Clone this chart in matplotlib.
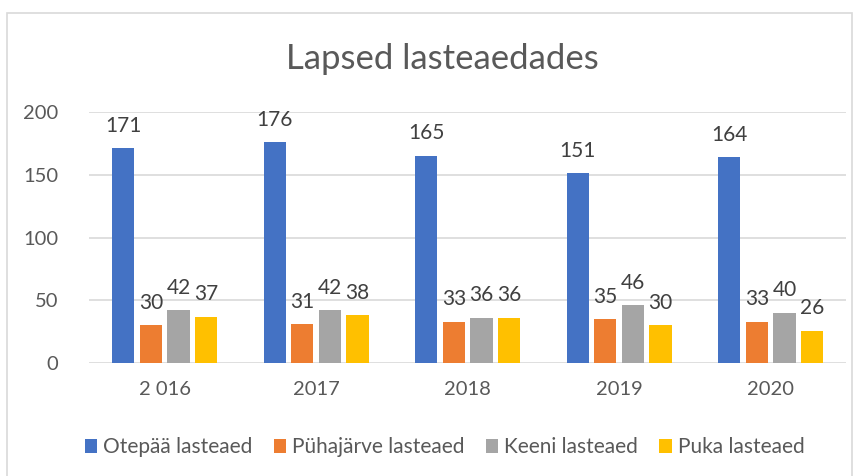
import matplotlib
import matplotlib.pyplot as plt
import numpy as np
from matplotlib.patches import Rectangle

matplotlib.use("Agg", force=True)

years = ["2 016", "2017", "2018", "2019", "2020"]
series_names = ["Otepää lasteaed", "Pühajärve lasteaed", "Keeni lasteaed", "Puka lasteaed"]
otepaa = [171, 176, 165, 151, 164]
puhajarve = [30, 31, 33, 35, 33]
keeni = [42, 42, 36, 46, 40]
puka = [37, 38, 36, 30, 26]
colors = ["#4472c4", "#ed7d31", "#a5a5a5", "#ffc000"]
text_color = "#595959"

plt.rcParams["font.family"] = ["Lato", "DejaVu Sans"]

fig = plt.figure(figsize=(8.55, 4.76), dpi=100)
ax = fig.add_axes([0.104, 0.237, 0.886, 0.528])

x = np.arange(len(years))
width = 0.146
step = 0.182
for i, (vals, name) in enumerate(zip([otepaa, puhajarve, keeni, puka], series_names)):
    pos = x + (i - 1.5) * step
    bars = ax.bar(pos, vals, width, color=colors[i], label=name, zorder=3)
    for b, v in zip(bars, vals):
        ax.annotate(str(v), (b.get_x() + b.get_width() / 2, v), xytext=(0, 9),
                    textcoords="offset points", ha="center", va="bottom",
                    fontsize=15, color="#404040")

ax.set_ylim(0, 200)
ax.set_xlim(-0.5, len(years) - 0.5)
ax.set_yticks([0, 50, 100, 150, 200])
ax.set_xticks(x)
ax.set_xticklabels(years)
ax.grid(axis="y", color="#d9d9d9", linewidth=1.2, zorder=0)
for s in ax.spines.values():
    s.set_visible(False)
ax.tick_params(length=0, labelsize=14.5, labelcolor=text_color)
ax.tick_params(axis="x", pad=13)
ax.tick_params(axis="y", pad=22)

fig.text(0.517, 0.876, "Lapsed lasteaedades", ha="center", va="center",
         fontsize=25, color=text_color)

fig.legend(loc="center", bbox_to_anchor=(0.52, 0.06), ncol=4, frameon=False,
           fontsize=15, labelcolor=text_color, handlelength=0.6, handleheight=0.6,
           handletextpad=0.3, columnspacing=1.0)

fig.patches.append(Rectangle((7 / 855, -0.05), 845 / 855, 1 - 13 / 476 + 0.05,
                             transform=fig.transFigure, fill=False,
                             edgecolor="#d9d9d9", linewidth=1.2))

fig.savefig("out.png", dpi=100)
